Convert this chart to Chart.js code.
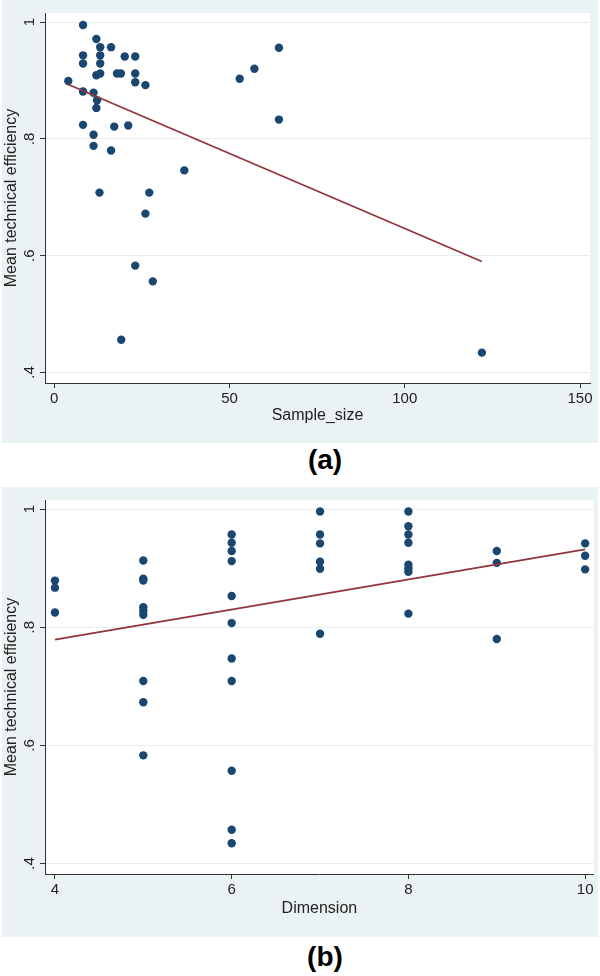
<!DOCTYPE html>
<html lang="en">
<head>
<meta charset="UTF-8">
<title>Mean technical efficiency</title>
<script src="https://cdn.jsdelivr.net/npm/chart.js"></script>
<style>
  body { margin: 0; width: 600px; height: 976px; position: relative; background: #fff;
         font-family: "Liberation Sans", Arial, sans-serif; }
  .panel { position: absolute; left: 2px; width: 596px; background: #eaf2f3; }
  .panel canvas { display: block; }
  .tag { position: absolute; left: 275px; width: 100px; height: 34px; line-height: 34px;
         text-align: center; font-weight: bold; font-size: 28px; color: #000; }
</style>
</head>
<body>
<div class="panel" style="top:0;height:443px"><canvas id="chartA" width="596" height="443"></canvas></div>
<div class="tag" style="top:443px">(a)</div>
<div class="panel" style="top:487px;height:450px"><canvas id="chartB" width="596" height="450"></canvas></div>
<div class="tag" style="top:940px">(b)</div>
<script>
// panel (a): sample size vs mean technical efficiency
const sampleSize = [8.2, 4.0, 12, 13.1, 16.2, 8.2, 13.1, 20.1, 23.1, 8.2,
                    13.1, 12, 13.1, 17.9, 19.0, 23.1, 23.1, 26, 8.2, 11.2,
                    12.2, 12, 8.2, 17.1, 21.1, 11.2, 11.2, 16.2, 37.1, 12.9,
                    27.1, 26, 52.9, 57.1, 64.1, 64.1, 23.1, 28.1, 19.1, 122];
const effA = [0.995, 0.899, 0.971, 0.957, 0.957, 0.943, 0.943, 0.941, 0.941, 0.929,
              0.929, 0.909, 0.912, 0.912, 0.912, 0.912, 0.897, 0.892, 0.881, 0.879,
              0.866, 0.853, 0.824, 0.821, 0.823, 0.807, 0.788, 0.780, 0.746, 0.708,
              0.708, 0.672, 0.903, 0.920, 0.956, 0.833, 0.583, 0.556, 0.456, 0.434];
const fitAx = [4, 122];
const fitAy = [0.893, 0.590];
const xTicksA = [0, 50, 100, 150];

// panel (b): dimension vs mean technical efficiency
const dimension = [4, 4, 4,
                   5, 5, 5, 5, 5, 5, 5, 5, 5,
                   6, 6, 6, 6, 6, 6, 6, 6, 6, 6, 6,
                   7, 7, 7, 7, 7, 7,
                   8, 8, 8, 8, 8, 8, 8, 8,
                   9, 9, 9,
                   10, 10, 10];
const effB = [0.879, 0.867, 0.825,
              0.913, 0.882, 0.879, 0.834, 0.828, 0.821, 0.709, 0.673, 0.583,
              0.957, 0.943, 0.929, 0.912, 0.853, 0.807, 0.747, 0.709, 0.557, 0.457, 0.434,
              0.996, 0.957, 0.942, 0.911, 0.899, 0.789,
              0.996, 0.971, 0.957, 0.943, 0.906, 0.900, 0.894, 0.823,
              0.929, 0.909, 0.780,
              0.942, 0.921, 0.898];
const fitBx = [4, 10];
const fitBy = [0.779, 0.932];
const xTicksB = [4, 6, 8, 10];

const yTicks = [0.4, 0.6, 0.8, 1];
const yTickLabels = ['.4', '.6', '.8', '1'];

Chart.defaults.font.family = '"Liberation Sans", Arial, sans-serif';
Chart.defaults.color = '#222';

// white plot region on the light bluish-gray graph background
const plotBg = {
  id: 'plotBg',
  beforeDraw(chart) {
    const {ctx, chartArea: a} = chart;
    ctx.save();
    ctx.fillStyle = '#ffffff';
    ctx.fillRect(a.left, a.top, a.right - a.left, a.bottom - a.top);
    ctx.restore();
  }
};

function makeChart(id, xs, ys, fx, fy, xTicks, xMin, xMax, xTitle, padTop, padRight, xHeight, titlePad) {
  const pts = xs.map((x, i) => ({x: x, y: ys[i]}));
  const fit = fx.map((x, i) => ({x: x, y: fy[i]}));
  return new Chart(document.getElementById(id), {
    type: 'scatter',
    data: {
      datasets: [
        { type: 'line', data: fit, borderColor: '#90353b', borderWidth: 1.8,
          pointRadius: 0, fill: false, tension: 0 },
        { data: pts, backgroundColor: '#1a476f', borderColor: '#1a476f',
          pointRadius: 4.2, borderWidth: 0 }
      ]
    },
    options: {
      responsive: false,
      animation: false,
      layout: { padding: { top: padTop, right: padRight, left: 0, bottom: 0 } },
      plugins: { legend: { display: false }, tooltip: { enabled: false } },
      scales: {
        x: {
          type: 'linear', min: xMin, max: xMax,
          afterBuildTicks: s => { s.ticks = xTicks.map(v => ({value: v})); },
          afterFit: s => { s.height = xHeight; },
          ticks: { font: { size: 15 }, padding: 2, maxRotation: 0, callback: (v, i) => String(xTicks[i]) },
          grid: { drawOnChartArea: false, tickLength: 5, tickColor: '#333' },
          border: { color: '#333', width: 1 },
          title: { display: true, text: xTitle, font: { size: 16 }, padding: { top: 0, bottom: titlePad } }
        },
        y: {
          type: 'linear', min: 0.382, max: 1.0155,
          afterBuildTicks: s => { s.ticks = yTicks.map(v => ({value: v})); },
          afterFit: s => { s.width = 43; },
          ticks: { font: { size: 15 }, padding: 4, minRotation: 90, maxRotation: 90,
                   crossAlign: 'center', callback: (v, i) => yTickLabels[i] },
          grid: { color: '#e4eef0', lineWidth: 1, tickLength: 5, tickColor: '#333' },
          border: { color: '#333', width: 1 },
          title: { display: true, text: 'Mean technical efficiency', font: { size: 16 }, padding: 0 }
        }
      }
    },
    plugins: [plotBg]
  });
}

makeChart('chartA', sampleSize, effA, fitAx, fitAy, xTicksA, -2.65, 152.85, 'Sample_size', 8, 8, 60, 18);
makeChart('chartB', dimension, effB, fitBx, fitBy, xTicksB, 3.8875, 10.098, 'Dimension', 7, 1, 63, 19);
</script>
</body>
</html>
